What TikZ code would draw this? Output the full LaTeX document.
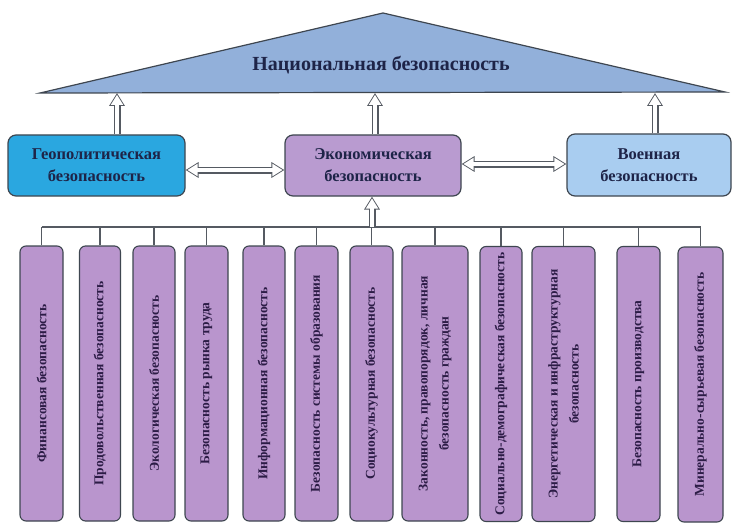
\documentclass[tikz,border=0pt]{standalone}
\usepackage{fontspec}
\setmainfont{Liberation Serif}[BoldFont={Liberation Serif Bold}]
\usetikzlibrary{arrows.meta}
\definecolor{triblue}{HTML}{92B0DA}
\definecolor{geoblue}{HTML}{2AA7E0}
\definecolor{milblue}{HTML}{A9CDF0}
\definecolor{ecoviolet}{HTML}{B99BD0}
\definecolor{subviolet}{HTML}{B995CD}
\definecolor{edgegray}{HTML}{3E4650}
\definecolor{arrowgray}{HTML}{555A62}
\definecolor{txtnavy}{HTML}{1E2448}
\definecolor{txtpurple}{HTML}{2C1C46}
\begin{document}
\begin{tikzpicture}[x=1pt,y=-1pt,
  mainbox/.style={draw=edgegray, line width=1.2pt, rounded corners=8pt, align=center,
    text=txtnavy, font=\bfseries\fontsize{16.5}{22}\selectfont, inner sep=0pt},
  subbox/.style={draw=edgegray, line width=1.1pt, rounded corners=6pt, fill=subviolet,
    rotate=90, minimum width=275pt, align=center, text=txtpurple,
    font=\bfseries\fontsize{13.5}{21}\selectfont, inner sep=0pt},
  arrowout/.style={draw=arrowgray, line width=7pt, -{Triangle[length=13pt,width=15pt]}},
  arrowin/.style={draw=white, line width=4.6pt, shorten >=1.8pt, -{Triangle[length=10.2pt,width=11.8pt]}},
  arrowouttwo/.style={draw=arrowgray, line width=7pt, {Triangle[length=13pt,width=15pt]}-{Triangle[length=13pt,width=15pt]}},
  arrowintwo/.style={draw=white, line width=4.6pt, shorten >=1.8pt, shorten <=1.8pt, {Triangle[length=10.2pt,width=11.8pt]}-{Triangle[length=10.2pt,width=11.8pt]}},
  busline/.style={draw=arrowgray, line width=1.3pt}
]
\useasboundingbox (0,0) rectangle (736,524);

% triangle
\coordinate (tl) at (40,93);
\coordinate (ta) at (383,13);
\coordinate (tr) at (725,92);

% middle boxes
\node[mainbox, fill=geoblue, minimum width=177pt, minimum height=61pt] (geo) at (96.5,165.5) {Геополитическая\\безопасность};
\node[mainbox, fill=ecoviolet, minimum width=176pt, minimum height=61pt] (eco) at (373,165.5) {Экономическая\\безопасность};
\node[mainbox, fill=milblue, minimum width=164pt, minimum height=62pt] (mil) at (649,165) {Военная\\безопасность};

% arrows to triangle
\coordinate (p1) at (117,93);
\coordinate (p2) at (375,93);
\coordinate (p3) at (655,93);
\foreach \b/\p in {geo/p1, eco/p2, mil/p3} {
  \draw[arrowout] (\b.north -| \p) -- (\p);
  \draw[arrowin] (\b.north -| \p) -- (\p);
}

\draw[fill=triblue, draw=edgegray, line width=1.2pt] (tl) -- (ta) -- (tr) -- cycle;
\node[text=txtnavy, font=\bfseries\fontsize{20}{24}\selectfont] (nat) at (381,65) {Национальная безопасность};

% horizontal arrows
\coordinate (h1) at (0,170);
\coordinate (h2) at (0,164);
\draw[arrowouttwo] (geo.east |- h1) -- (eco.west |- h1);
\draw[arrowintwo] (geo.east |- h1) -- (eco.west |- h1);
\draw[arrowouttwo] (eco.east |- h2) -- (mil.west |- h2);
\draw[arrowintwo] (eco.east |- h2) -- (mil.west |- h2);

% bottom boxes
\node[subbox, minimum height=43pt] (b1) at (41.5,383.5) {Финансовая безопасность};
\node[subbox, minimum height=41pt] (b2) at (100,383.5) {Продовольственная безопасность};
\node[subbox, minimum height=42pt] (b3) at (154,383.5) {Экологическая безопасность};
\node[subbox, minimum height=43pt] (b4) at (206.5,383.5) {Безопасность рынка труда};
\node[subbox, minimum height=42pt] (b5) at (264,383.5) {Информационная безопасность};
\node[subbox, minimum height=43pt] (b6) at (316.5,383.5) {Безопасность системы образования};
\node[subbox, minimum height=43pt] (b7) at (371.5,383.5) {Социокультурная безопасность};
\node[subbox, minimum height=66pt] (b8) at (435,383.5) {Законность, правопорядок, личная\\безопасность граждан};
\node[subbox, minimum height=42pt] (b9) at (501,384) {Социально-демографическая безопасность};
\node[subbox, minimum height=63pt] (b10) at (563.5,384) {Энергетическая и инфраструктурная\\безопасность};
\node[subbox, minimum height=43pt] (b11) at (638.5,384) {Безопасность производства};
\node[subbox, minimum height=45pt] (b12) at (700.5,384.5) {Минерально-сырьевая безопасность};

% bus
\coordinate (bus) at (372,227);
\draw[busline] (b1.east |- bus) -- (b12.east |- bus);
\foreach \i in {1,...,12} \draw[busline] (b\i.east) -- (b\i.east |- bus);
\draw[arrowout] (bus) -- (bus |- eco.south);
\draw[arrowin] (bus) -- (bus |- eco.south);
\end{tikzpicture}
\end{document}
